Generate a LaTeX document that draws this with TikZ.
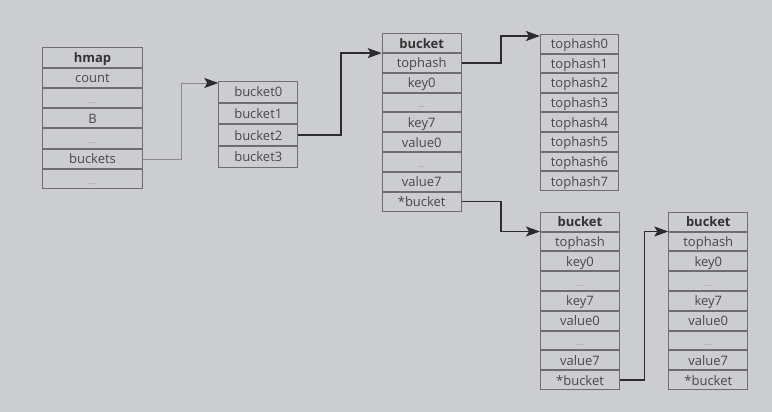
\documentclass[tikz,border=0pt]{standalone}
\usepackage{fontspec}
\setmainfont{Open Sans}
\usetikzlibrary{arrows.meta,positioning}
\definecolor{bgpane}{RGB}{204,205,209}
\definecolor{cellline}{RGB}{110,110,113}
\definecolor{celltext}{RGB}{72,72,76}
\definecolor{wire}{RGB}{44,44,47}
\definecolor{wirelight}{RGB}{138,138,142}

\begin{document}
\begin{tikzpicture}[
  x=1pt, y=-1pt,
  font=\fontsize{13}{15}\selectfont,
  cell/.style={
    rectangle,
    draw=cellline,
    line width=1pt,
    fill=bgpane,
    text=celltext,
    inner sep=0pt,
    text height=10pt,
    text depth=0pt
  },
  hmrow/.style={cell, minimum width=100pt, minimum height=19.3pt},
  bkrow/.style={cell, minimum width=79pt, minimum height=20.7pt},
  slot/.style={cell, minimum width=79pt, minimum height=18.8pt},
  throw/.style={cell, minimum width=78pt, minimum height=18.6pt},
  title/.style={font=\fontsize{13}{15}\selectfont\bfseries, text=black!80},
  elide/.style={font=\fontsize{9}{10}\selectfont, text=celltext!60},
  link/.style={-{Stealth[length=14pt,width=10pt,inset=3pt,color=wire]}, draw=wire, line width=1.6pt},
  feed/.style={-{Stealth[length=14pt,width=10pt,inset=3pt,color=wire]}, draw=wirelight, line width=0.9pt}
]

\path[use as bounding box, fill=bgpane] (0,0) rectangle (772,412);

% hmap
\node[hmrow, title, anchor=north west] (hm) at (42,47.3) {hmap};
\node[hmrow, below=0pt of hm] (hm-count) {count};
\node[hmrow, elide, below=0pt of hm-count] (hm-dots1) {...};
\node[hmrow, below=0pt of hm-dots1] (hm-B) {B};
\node[hmrow, elide, below=0pt of hm-B] (hm-dots2) {...};
\node[hmrow, below=0pt of hm-dots2] (hm-buckets) {buckets};
\node[hmrow, elide, below=0pt of hm-buckets] (hm-dots3) {...};

% bucket array
\node[bkrow, anchor=north west] (bk0) at (218.3,81) {bucket0};
\node[bkrow, below=0pt of bk0] (bk1) {bucket1};
\node[bkrow, below=0pt of bk1] (bk2) {bucket2};
\node[bkrow, below=0pt of bk2] (bk3) {bucket3};

% bucket
\node[slot, title, anchor=north west] (bs) at (381.7,33.3) {bucket};
\node[slot, below=0pt of bs] (bs-tophash) {tophash};
\node[slot, below=0pt of bs-tophash] (bs-key0) {key0};
\node[slot, elide, below=0pt of bs-key0] (bs-dots1) {...};
\node[slot, below=0pt of bs-dots1] (bs-key7) {key7};
\node[slot, below=0pt of bs-key7] (bs-value0) {value0};
\node[slot, elide, below=0pt of bs-value0] (bs-dots2) {...};
\node[slot, below=0pt of bs-dots2] (bs-value7) {value7};
\node[slot, below=0pt of bs-value7] (bs-next) {*bucket};

% tophash array
\node[throw, anchor=north west] (th0) at (540,34) {tophash0};
\node[throw, below=0pt of th0] (th1) {tophash1};
\node[throw, below=0pt of th1] (th2) {tophash2};
\node[throw, below=0pt of th2] (th3) {tophash3};
\node[throw, below=0pt of th3] (th4) {tophash4};
\node[throw, below=0pt of th4] (th5) {tophash5};
\node[throw, below=0pt of th5] (th6) {tophash6};
\node[throw, below=0pt of th6] (th7) {tophash7};

% overflow bucket
\node[slot, title, anchor=north west] (ob) at (540,211.7) {bucket};
\node[slot, below=0pt of ob] (ob-tophash) {tophash};
\node[slot, below=0pt of ob-tophash] (ob-key0) {key0};
\node[slot, elide, below=0pt of ob-key0] (ob-dots1) {...};
\node[slot, below=0pt of ob-dots1] (ob-key7) {key7};
\node[slot, below=0pt of ob-key7] (ob-value0) {value0};
\node[slot, elide, below=0pt of ob-value0] (ob-dots2) {...};
\node[slot, below=0pt of ob-dots2] (ob-value7) {value7};
\node[slot, below=0pt of ob-value7] (ob-next) {*bucket};

% next overflow bucket
\node[slot, title, anchor=north west] (ob2) at (668.3,211.7) {bucket};
\node[slot, below=0pt of ob2] (ob2-tophash) {tophash};
\node[slot, below=0pt of ob2-tophash] (ob2-key0) {key0};
\node[slot, elide, below=0pt of ob2-key0] (ob2-dots1) {...};
\node[slot, below=0pt of ob2-dots1] (ob2-key7) {key7};
\node[slot, below=0pt of ob2-key7] (ob2-value0) {value0};
\node[slot, elide, below=0pt of ob2-value0] (ob2-dots2) {...};
\node[slot, below=0pt of ob2-dots2] (ob2-value7) {value7};
\node[slot, below=0pt of ob2-value7] (ob2-next) {*bucket};

\draw[feed] (hm-buckets.east) -- ++(38.5,0) |- ([yshift=-2pt]bk0.north west);
\draw[link] (bk2.east) -- ++(42.5,0) |- (bs.south west);
\draw[link] (bs-tophash.east) -- ++(39.5,0) |- ([yshift=-2pt]th0.north west);
\draw[link] (bs-next.east) -- ++(39,0) |- (ob.south west);
\draw[link] (ob-next.east) -- ++(24.5,0) |- (ob2.south west);

\end{tikzpicture}
\end{document}
